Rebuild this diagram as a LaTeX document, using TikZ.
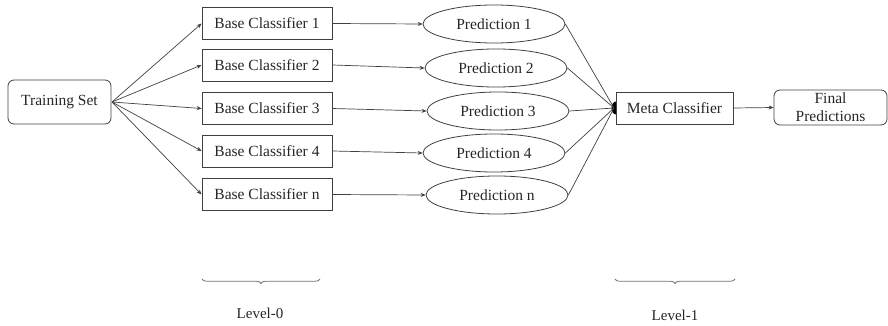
\documentclass[tikz,border=0pt]{standalone}
\usepackage{fontspec}
\setmainfont{Liberation Serif}
\usetikzlibrary{arrows.meta,shapes.geometric,decorations.pathreplacing}
\tikzset{
  basebox/.style={draw=black!75, line width=0.8pt, minimum width=130pt, minimum height=32pt, inner sep=0pt, font=\fontsize{15.5}{17}\selectfont, text=black!85},
  predell/.style={ellipse, draw=black!75, line width=0.8pt, minimum width=142pt, minimum height=38pt, inner sep=0pt, font=\fontsize{15.5}{17}\selectfont, text=black!85},
  roundbox/.style={draw=black!75, line width=0.8pt, rounded corners=6pt, inner sep=0pt, font=\fontsize{15.5}{17}\selectfont, text=black!85, align=center},
  arr/.style={draw=black!75, line width=0.7pt, -{Stealth[length=5pt,width=4pt]}},
  ln/.style={draw=black!75, line width=0.7pt},
  bracestyle/.style={draw=black!55, line width=0.8pt, decorate, decoration={brace, amplitude=4.5pt}},
  lvl/.style={font=\fontsize{15}{17}\selectfont, text=black!85}
}
\begin{document}
\begin{tikzpicture}[x=1pt,y=-1pt]
\useasboundingbox (0,0) rectangle (888,326);
% training set
\node[roundbox, minimum width=103pt, minimum height=44pt] (ts) at (59.5,102) {Training Set};
\coordinate (tsout) at (112,102);
% base classifiers
\node[basebox] (bc1) at (267,23.5) {Base Classifier 1};
\node[basebox] (bc2) at (267,65) {Base Classifier 2};
\node[basebox] (bc3) at (267,108.5) {Base Classifier 3};
\node[basebox] (bc4) at (267,151) {Base Classifier 4};
\node[basebox] (bcn) at (267,194.5) {Base Classifier n};
% predictions
\node[predell] (p1) at (494,24) {Prediction 1};
\node[predell] (p2) at (496,68) {Prediction 2};
\node[predell] (p3) at (498,111) {Prediction 3};
\node[predell] (p4) at (494,153) {Prediction 4};
\node[predell] (pn) at (497,195) {Prediction n};
% meta
\fill[black] (616,108) ellipse[x radius=4.5pt, y radius=6.5pt];
\coordinate (dot) at (614,108);
\node[basebox, minimum width=117pt, fill=white] (meta) at (674.5,108) {Meta Classifier};
\node[roundbox, minimum width=113pt, minimum height=35pt] (final) at (830.5,107.5) {Final\\[1pt]Predictions};
% connectors
\foreach \b in {bc1,bc2,bc3,bc4,bcn} {\draw[arr] (tsout) -- (\b.west);}
\draw[arr] (bc1.east) -- (p1.west);
\draw[arr] (bc2.east) -- (p2.west);
\draw[arr] (bc3.east) -- (p3.west);
\draw[arr] (bc4.east) -- (p4.west);
\draw[arr] (bcn.east) -- (pn.west);
\foreach \p in {p1,p2,p3,p4,pn} {\draw[ln] (\p.east) -- (dot);}
\draw[arr] (meta.east) -- (final.west);
% levels
\coordinate (b0a) at (320,279);
\coordinate (b0b) at (202,279);
\coordinate (b1a) at (735,279);
\coordinate (b1b) at (615,279);
\draw[bracestyle] (b0a) -- (b0b);
\draw[bracestyle] (b1a) -- (b1b);
\node[lvl] (l0) at (260,313) {Level-0};
\node[lvl] (l1) at (675,315) {Level-1};
\end{tikzpicture}
\end{document}
